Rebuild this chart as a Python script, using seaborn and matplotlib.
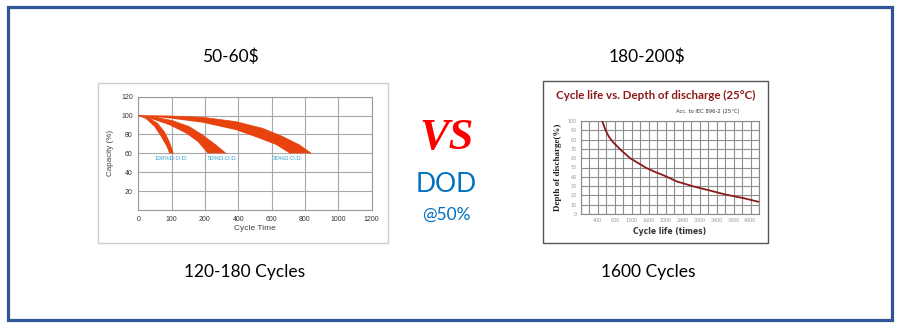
import matplotlib
matplotlib.use("Agg")
import numpy as np
import pandas as pd
import matplotlib.pyplot as plt
import seaborn as sns
from matplotlib.patches import Rectangle

# ---------------- data ----------------
# Left chart (x in grid positions, printed tick labels are non-uniform)
left_xtick_labels = ["0", "100", "200", "400", "600", "800", "1000", "1200"]
left_ytick_values = [20, 40, 60, 80, 100, 120]
dod_names = ["100%D.O.D.", "50%D.O.D.", "30%D.O.D."]

dod100_upper_x = [0, 0.33, 0.58, 0.78, 0.93, 1.05]
dod100_upper_y = [100, 97.1, 91.8, 83, 72.4, 60]
dod100_lower_x = [0, 0.23, 0.48, 0.68, 0.85, 0.93]
dod100_lower_y = [100, 96.4, 88.3, 77.7, 67.1, 60]

dod50_upper_x = [0, 0.53, 1.03, 1.53, 1.93, 2.33, 2.63]
dod50_upper_y = [100, 98.2, 94.6, 88.3, 79.4, 68.9, 60]
dod50_lower_x = [0, 0.43, 0.93, 1.43, 1.78, 2.08]
dod50_lower_y = [100, 96, 90, 81.2, 72.4, 60]

dod30_upper_x = [0, 0.93, 1.93, 2.93, 3.73, 4.34, 4.84, 5.19]
dod30_upper_y = [100, 99.6, 98.2, 93.6, 86.5, 77.7, 68.9, 60]
dod30_lower_x = [0, 0.93, 1.93, 2.93, 3.63, 4.14, 4.54]
dod30_lower_y = [100, 97.1, 92.5, 84.7, 75.9, 68.9, 60]

dod_label_x = [0.98, 2.55, 4.5]
dod_label_y = [54.5, 54.5, 54.5]

# Right chart
cycle_life = [500, 580, 660, 760, 960, 1160, 1360, 1540, 1760, 1980, 2260,
              2660, 3060, 3440, 3840, 4200]
depth_of_discharge = [100, 90, 83, 77, 68, 60, 54.5, 49.5, 45, 41, 35,
                      29.6, 25, 20.6, 17, 13]
right_xtick_pos = [400, 800, 1200, 1600, 2000, 2400, 2800, 3200, 3600, 4000]
right_xtick_labels = ["400", "800", "1200", "1600", "2000", "2400", "3000", "3400", "3800", "4000"]
right_ytick_values = [0, 10, 20, 30, 40, 50, 60, 70, 80, 90, 100]

# texts
price_left, price_right = "50-60$", "180-200$"
cycles_left, cycles_right = "120-180 Cycles", "1600 Cycles"

# ---------------- figure ----------------
sns.set_theme(style="white")
plt.rcParams["font.family"] = ["Lato", "DejaVu Sans"]

W, H = 900, 325
fig = plt.figure(figsize=(W / 100, H / 100), dpi=100)
fig.patch.set_facecolor("white")


def px_axes(x0, y0, x1, y1):
    return fig.add_axes([x0 / W, 1 - y1 / H, (x1 - x0) / W, (y1 - y0) / H])


def px_text(x, y, s, **kw):
    fig.text(x / W, 1 - y / H, s, ha=kw.pop("ha", "center"), va=kw.pop("va", "center"), **kw)


def px_rect(x0, y0, x1, y1, **kw):
    fig.patches.append(Rectangle((x0 / W, 1 - y1 / H), (x1 - x0) / W, (y1 - y0) / H,
                                 transform=fig.transFigure, fill=False, **kw))


# outer border
px_rect(7.5, 6.5, 891.5, 319.5, edgecolor="#2F5597", linewidth=2.3)
# panel boxes
px_rect(97.5, 83, 388, 243, edgecolor="#cfcfcf", linewidth=1)
px_rect(543, 81, 768, 243, edgecolor="#555555", linewidth=1)

# ---------------- left chart ----------------
axL = px_axes(138.3, 96.7, 371.5, 210)
orange = "#E8430E"
bands = [
    (dod100_upper_x, dod100_upper_y, dod100_lower_x, dod100_lower_y),
    (dod50_upper_x, dod50_upper_y, dod50_lower_x, dod50_lower_y),
    (dod30_upper_x, dod30_upper_y, dod30_lower_x, dod30_lower_y),
]
for ux, uy, lx, ly in bands:
    poly_x = list(ux) + list(lx)[::-1]
    poly_y = list(uy) + list(ly)[::-1]
    axL.fill(poly_x, poly_y, color=orange, lw=0, zorder=3)
    edge = pd.DataFrame({"x": ux, "y": uy})
    sns.lineplot(data=edge, x="x", y="y", ax=axL, color=orange, lw=0.5, sort=False, zorder=3)
for name, lx, ly in zip(dod_names, dod_label_x, dod_label_y):
    axL.text(lx, ly, name, ha="center", va="center", fontsize=4.3, color="#2A9BD0",
             family="Liberation Sans", zorder=4)

axL.set_xlim(0, 7)
axL.set_ylim(0, 120)
axL.set_xticks(range(8))
axL.set_xticklabels(left_xtick_labels)
axL.set_yticks(left_ytick_values)
axL.set_yticklabels([str(v) for v in left_ytick_values])
axL.grid(True, color="#a8a8a8", lw=0.8)
axL.tick_params(length=0, labelsize=5, colors="#333333", pad=4)
for lab in axL.get_xticklabels() + axL.get_yticklabels():
    lab.set_family("Liberation Sans")
for sp in axL.spines.values():
    sp.set_color("#999999")
    sp.set_linewidth(0.8)
axL.set_xlabel("Cycle Time", fontsize=6, color="#444444", family="Liberation Sans", labelpad=2)
axL.set_ylabel("Capacity (%)", fontsize=5.8, color="#444444", family="Liberation Sans", labelpad=5)

# ---------------- right chart ----------------
axR = px_axes(581, 121, 759, 214)
dfR = pd.DataFrame({"cycles": cycle_life, "dod": depth_of_discharge})
sns.lineplot(data=dfR, x="cycles", y="dod", ax=axR, color="#8B1A1A", lw=1.3, zorder=3)
axR.set_xlim(0, 4200)
axR.set_ylim(0, 100)
axR.set_xticks(right_xtick_pos)
axR.set_xticklabels(right_xtick_labels)
axR.set_xticks(np.arange(0, 4201, 200), minor=True)
axR.set_yticks(right_ytick_values)
axR.set_yticklabels([str(v) for v in right_ytick_values])
axR.grid(True, which="both", color="#8f8f8f", lw=0.8)
axR.tick_params(which="both", length=0, labelsize=3.8, colors="#9a9a9a", pad=3)
for sp in axR.spines.values():
    sp.set_color("#888888")
    sp.set_linewidth(0.8)
axR.set_xlabel("Cycle life (times)", fontsize=5.5, fontweight="bold", color="#333333",
               family="Liberation Sans Narrow", labelpad=3)
axR.set_ylabel("Depth of discharge(%)", fontsize=6.5, fontweight="bold", color="#222222",
               family="Liberation Serif", labelpad=4)

px_text(656, 95, "Cycle life vs. Depth of discharge (25°C)", fontsize=8.3, fontweight="bold",
        color="#8B1A1A")
px_text(708, 112, "Acc. to IEC 896-2 (25°C)", fontsize=3.8, color="#333333",
        family="Liberation Sans Narrow")

# ---------------- text ----------------
px_text(230, 57, price_left, fontsize=12.5, color="black")
px_text(647, 57, price_right, fontsize=12.5, color="black")
px_text(245, 272, cycles_left, fontsize=12.5, color="black")
px_text(648, 272, cycles_right, fontsize=12.5, color="black")

px_text(446.5, 138, "VS", fontsize=32, fontweight="bold", fontstyle="italic",
        family="Liberation Serif", color="#FF0000")
px_text(446.5, 185, "DOD", fontsize=19, color="#0070C0")
px_text(446.5, 215, "@50%", fontsize=12.5, color="#0070C0")

fig.savefig("out.png", dpi=100, facecolor="white")
